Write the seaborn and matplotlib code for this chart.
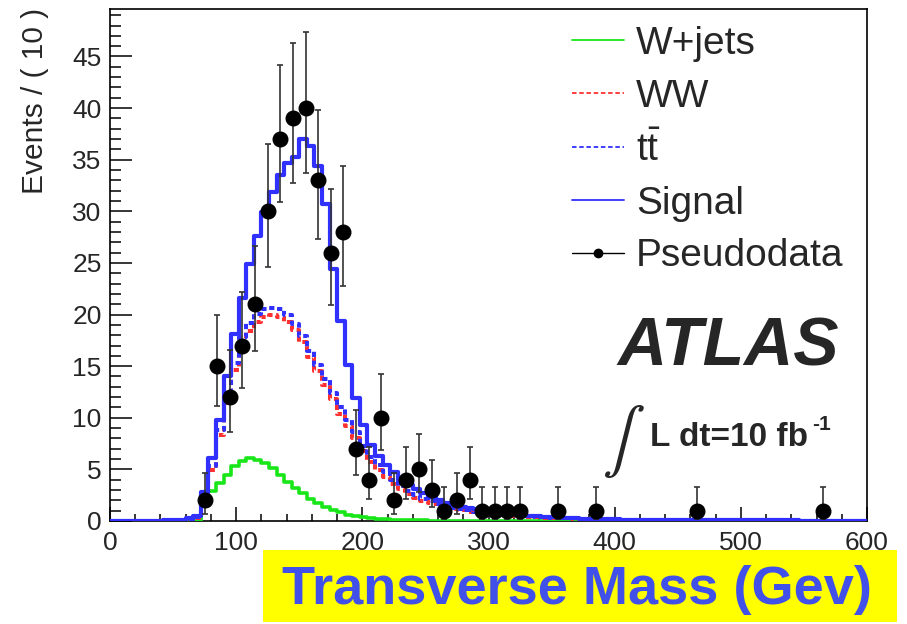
import numpy as np
import pandas as pd
import matplotlib
matplotlib.use("Agg")
import matplotlib.pyplot as plt
from matplotlib.lines import Line2D
from matplotlib.patches import Rectangle
import seaborn as sns

# ---------------- data ----------------
bin_lo, bin_hi, n_bins = 0, 600, 100          # model histograms: 6 GeV bins

signal = [0, 0, 0, 0, 0, 0, 0, 0.05, 0.08, 0.12,
          0.25, 0.5, 2.85, 6.1, 9.8, 14.0, 18.1, 21.6, 24.85, 27.6,
          29.9, 31.9, 33.5, 34.7, 35.3, 37.05, 36.3, 34.4, 30.7, 24.4,
          19.4, 15.1, 11.9, 9.3, 7.4, 6.25, 5.4, 4.7, 4.0, 3.5,
          3.1, 2.7, 2.3, 2.0, 1.75, 1.55, 1.4, 1.25, 1.12, 1.0,
          0.9, 0.8, 0.72, 0.64, 0.57, 0.5, 0.45, 0.4, 0.36, 0.32,
          0.29, 0.26, 0.23, 0.21, 0.19, 0.17, 0.15, 0.14, 0.13, 0.12,
          0.11, 0.1, 0.1, 0.09, 0.09, 0.08, 0.08, 0.08, 0.07, 0.07,
          0.07, 0.06, 0.06, 0.06, 0.06, 0.05, 0.05, 0.05, 0.05, 0.05,
          0.05, 0.04, 0.04, 0.04, 0.04, 0.04, 0.04, 0.04, 0.04, 0.04]

ww = [0, 0, 0, 0, 0, 0, 0, 0, 0, 0,
      0.1, 0.3, 2.0, 4.9, 8.3, 11.4, 14.6, 17.0, 18.4, 19.3,
      19.8, 20.0, 19.8, 19.3, 18.5, 17.3, 15.9, 14.5, 13.2, 11.8,
      10.4, 9.2, 8.0, 6.8, 5.7, 4.95, 4.3, 3.6, 3.1, 2.6,
      2.25, 1.95, 1.7, 1.5, 1.3, 1.15, 1.02, 0.92, 0.83, 0.75,
      0.68, 0.61, 0.55, 0.5, 0.45, 0.41, 0.37, 0.33, 0.3, 0.27,
      0.25, 0.23, 0.21, 0.19, 0.17, 0.16, 0.15, 0.14, 0.13, 0.12,
      0.11, 0.1, 0.1, 0.09, 0.09, 0.08, 0.08, 0.07, 0.07, 0.07,
      0.06, 0.06, 0.06, 0.05, 0.05, 0.05, 0.05, 0.05, 0.04, 0.04,
      0.04, 0.04, 0.04, 0.04, 0.03, 0.03, 0.03, 0.03, 0.03, 0.03]

ttbar = [0, 0, 0, 0, 0, 0, 0, 0, 0, 0,
         0.12, 0.35, 2.2, 5.3, 8.8, 12.0, 15.3, 17.8, 19.2, 20.1,
         20.5, 20.6, 20.5, 20.0, 19.1, 17.9, 16.5, 15.1, 13.8, 12.4,
         11.0, 9.8, 8.6, 7.3, 6.2, 5.4, 4.7, 4.0, 3.4, 2.9,
         2.5, 2.15, 1.9, 1.65, 1.45, 1.28, 1.13, 1.02, 0.92, 0.83,
         0.75, 0.68, 0.61, 0.55, 0.5, 0.45, 0.41, 0.37, 0.33, 0.3,
         0.27, 0.25, 0.23, 0.21, 0.19, 0.17, 0.16, 0.15, 0.14, 0.13,
         0.12, 0.11, 0.1, 0.1, 0.09, 0.09, 0.08, 0.08, 0.07, 0.07,
         0.07, 0.06, 0.06, 0.06, 0.05, 0.05, 0.05, 0.05, 0.05, 0.04,
         0.04, 0.04, 0.04, 0.04, 0.04, 0.03, 0.03, 0.03, 0.03, 0.03]

wjets = [0, 0, 0, 0, 0, 0, 0, 0, 0, 0,
         0, 0, 1.5, 2.9, 3.66, 4.47, 5.28, 5.86, 6.08, 5.9,
         5.6, 5.1, 4.47, 3.8, 3.17, 2.7, 2.1, 1.7, 1.35, 1.05,
         0.85, 0.6, 0.45, 0.35, 0.25, 0.2, 0.15, 0.12, 0.1, 0.08,
         0.06, 0.05, 0.04, 0.03, 0.02, 0.02, 0.02, 0.01, 0.01, 0.01,
         0, 0, 0, 0, 0, 0, 0, 0, 0, 0,
         0, 0, 0, 0, 0, 0, 0, 0, 0, 0,
         0, 0, 0, 0, 0, 0, 0, 0, 0, 0,
         0, 0, 0, 0, 0, 0, 0, 0, 0, 0,
         0, 0, 0, 0, 0, 0, 0, 0, 0, 0]

# pseudodata (10 GeV bins, non-empty bins only)
data_x = [75, 85, 95, 105, 115, 125, 135, 145, 155, 165, 175, 185, 195, 205, 215,
          225, 235, 245, 255, 265, 275, 285, 295, 305, 315, 325, 355, 385, 465, 565]
data_n = [2, 15, 12, 17, 21, 30, 37, 39, 40, 33, 26, 28, 7, 4, 10,
          2, 4, 5, 3, 1, 2, 4, 1, 1, 1, 1, 1, 1, 1, 1]
err_lo = [1.29, 3.83, 3.41, 4.08, 4.54, 5.44, 6.05, 6.22, 6.29, 5.71, 5.06, 5.26, 2.58, 1.91, 3.11,
          1.29, 1.91, 2.16, 1.63, 0.83, 1.29, 1.91, 0.83, 0.83, 0.83, 0.83, 0.83, 0.83, 0.83, 0.83]
err_hi = [2.64, 4.95, 4.55, 5.20, 5.65, 6.53, 7.13, 7.29, 7.38, 6.80, 6.16, 6.35, 3.77, 3.16, 4.27,
          2.64, 3.16, 3.38, 2.92, 2.30, 2.64, 3.16, 2.30, 2.30, 2.30, 2.30, 2.30, 2.30, 2.30, 2.30]

x_ticks = [0, 100, 200, 300, 400, 500, 600]
y_ticks = [0, 5, 10, 15, 20, 25, 30, 35, 40, 45]
labels = ["W+jets", "WW", r"$\mathregular{t\bar{t}}$", "Signal", "Pseudodata"]

# ---------------- style ----------------
sns.set_theme(style="white")
plt.rcParams["font.family"] = ["Liberation Sans", "DejaVu Sans"]

W, H = 907, 624
fig = plt.figure(figsize=(W / 100, H / 100), dpi=100)
ax = fig.add_axes([110 / W, 1 - 521 / H, 757 / W, 512 / H])

bw = (bin_hi - bin_lo) / n_bins
centers = bin_lo + bw * (np.arange(n_bins) + 0.5)
df = pd.DataFrame({"x": centers, "signal": signal, "ww": ww, "ttbar": ttbar, "wjets": wjets})

c_green = "#19e619"
c_red = "#ff3030"
c_blue = "#3030ff"

common = dict(data=df, x="x", binwidth=bw, binrange=(bin_lo, bin_hi),
              element="step", fill=False, ax=ax)
styles = [("wjets", c_green, 2.6, "-"),
          ("ww", c_red, 2.9, (0, (1.3, 0.9))),
          ("ttbar", c_blue, 2.9, (0, (1.3, 0.9))),
          ("signal", c_blue, 3.0, "-")]
for col, colr, lw, ls in styles:
    n_before = len(ax.lines)
    sns.histplot(weights=col, color=colr, **common)
    for ln in ax.lines[n_before:]:
        ln.set_linewidth(lw)
        ln.set_linestyle(ls)
        ln.set_zorder(3)

ax.errorbar(data_x, data_n, yerr=[err_lo, err_hi], fmt="o", color="black",
            ecolor="#333333", elinewidth=1.2, capsize=2.5, capthick=1.2,
            markersize=10.5, zorder=5)

ax.set_xlim(0, 600)
ax.set_ylim(0, 49.6)
ax.set_xlabel("")
ax.set_ylabel("")
ax.set_xticks(x_ticks)
ax.set_yticks(y_ticks)
ax.set_xticks(np.arange(0, 601, 20), minor=True)
ax.set_yticks(np.arange(0, 50, 1), minor=True)
ax.tick_params(axis="y", which="major", direction="in", length=15.5, width=1.1,
               labelsize=19, pad=6, left=True, right=False, color="black")
ax.tick_params(axis="y", which="minor", direction="in", length=7.8, width=1.1,
               left=True, right=False, color="black")
ax.tick_params(axis="x", which="major", direction="in", length=10, width=1.1,
               labelsize=19, pad=7, bottom=True, top=False, color="black")
ax.tick_params(axis="x", which="minor", direction="in", length=5, width=1.1,
               bottom=True, top=False, color="black")
for s in ax.spines.values():
    s.set_color("black")
    s.set_linewidth(1.2)
ax.grid(False)

# legend
handles = [
    Line2D([], [], color=c_green, lw=1.3),
    Line2D([], [], color=c_red, lw=1.3, linestyle=(0, (2.5, 1.5))),
    Line2D([], [], color=c_blue, lw=1.3, linestyle=(0, (2.5, 1.5))),
    Line2D([], [], color=c_blue, lw=1.3),
    Line2D([], [], color="black", lw=1.0, marker="o", markersize=6),
]
ax.legend(handles, labels, loc="upper left", bbox_to_anchor=(572 / W, 1 - 26 / H),
          bbox_transform=fig.transFigure, frameon=False, fontsize=28,
          handlelength=1.34, handletextpad=0.3, labelspacing=0.43,
          borderpad=0, borderaxespad=0)

# texts
fig.text(728 / W, 1 - 347 / H, "ATLAS", fontsize=49, fontweight="bold", fontstyle="italic",
         ha="center", va="center")
fig.text(623 / W, 1 - 441 / H, r"$\int$", fontsize=46, math_fontfamily="stix",
         ha="center", va="center")
fig.text(650 / W, 1 - 446 / H, "L dt=10 fb", fontsize=24, fontweight="bold",
         ha="left", va="baseline")
fig.text(812 / W, 1 - 430 / H, "-1", fontsize=15, fontweight="bold",
         ha="left", va="baseline")

fig.text(35 / W, 1 - 8 / H, "Events / ( 10 )", rotation=90, fontsize=21.5,
         ha="center", va="top")

fig.patches.append(Rectangle((263 / W, 1 - 622 / H), 634 / W, 72 / H,
                             transform=fig.transFigure, facecolor="#ffff00",
                             edgecolor="none", zorder=0))
fig.text(577 / W, 1 - 590 / H, "Transverse Mass (Gev)", fontsize=39, fontweight="bold",
         color="#4050e8", ha="center", va="center")

fig.savefig("out.png", dpi=100)
